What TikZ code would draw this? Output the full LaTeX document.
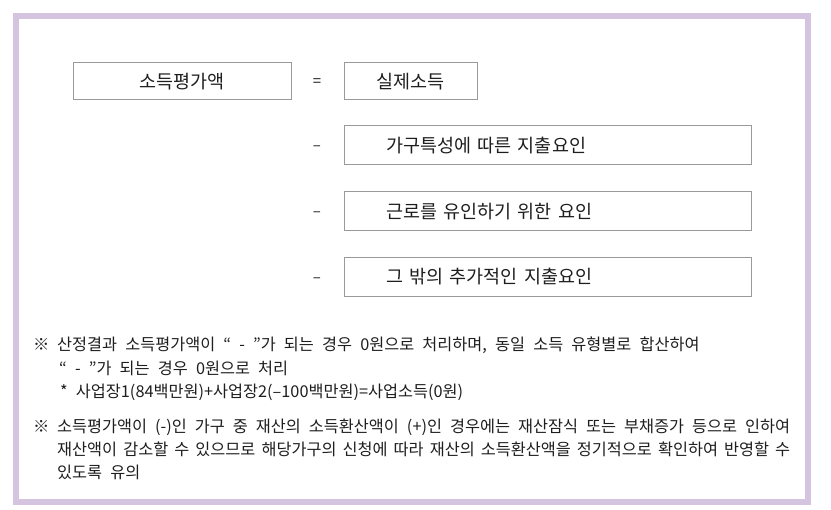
\documentclass[tikz,border=0pt]{standalone}
\usepackage{fontspec}
\setmainfont{Noto Sans CJK KR}
\definecolor{framelilac}{HTML}{D4C4E0}
\definecolor{boxgray}{HTML}{9A9A9A}
\definecolor{ink}{HTML}{1E1E1E}
\newcommand{\widespace}[1]{\spaceskip=#1em plus 0.15em minus 0.15em\relax}
\newcommand{\fullline}[1]{\hbox to 733pt{#1}}
\begin{document}
\begin{tikzpicture}[x=1pt,y=-1pt,
    termbox/.style={draw=boxgray,line width=1pt,minimum height=37pt,inner sep=0pt,text=ink,font=\fontsize{18.5}{18.5}\selectfont},
    factorbox/.style={draw=boxgray,line width=1pt,minimum height=39pt,inner ysep=0pt,inner xsep=42pt,text width=323pt,align=left,text=ink,font=\fontsize{18.5}{18.5}\selectfont\widespace{0.65}},
    oper/.style={anchor=base,inner sep=0pt,text=ink,font=\fontsize{15}{15}\selectfont},
    note/.style={anchor=base west,inner sep=0pt,text=ink,font=\fontsize{16.3}{16.3}\selectfont\widespace{0.5}}]
    \useasboundingbox (0,0) rectangle (831,510);
    \draw [framelilac,line width=6pt] (16,16) rectangle (808,502);
    % formula
    \node [termbox,minimum width=218pt] (evalinc) at (182,81.5) {소득평가액};
    \node [oper] (eq) at (317,87) {=};
    \node [termbox,minimum width=133pt] (realinc) at (410.5,81.5) {실제소득};
    \node [factorbox,anchor=west] (household) at (344,145.5) {가구특성에 따른 지출요인};
    \node [factorbox,anchor=west] (work) at (344,211.5) {근로를 유인하기 위한 요인};
    \node [factorbox,anchor=west] (extra) at (344,277) {그 밖의 추가적인 지출요인};
    \node [oper] (minusa) at (317,151) {–};
    \node [oper] (minusb) at (317,217) {–};
    \node [oper] (minusc) at (317,282.5) {–};
    % notes
    \node [note] (marka) at (33,351) {※};
    \node [note] (notea) at (57,351) {산정결과 소득평가액이 “ - ”가 되는 경우 0원으로 처리하며, 동일 소득 유형별로 합산하여};
    \node [note] (noteb) at (59,375) {“ - ”가 되는 경우 0원으로 처리};
    \node [note] (notec) at (60,398) {* 사업장1(84백만원)+사업장2(–100백만원)=사업소득(0원)};
    \node [note] (markb) at (33,433) {※};
    \node [note] (noted) at (57,433) {\fullline{소득평가액이 (-)인 가구 중 재산의 소득환산액이 (+)인 경우에는 재산잠식 또는 부채증가 등으로 인하여}};
    \node [note] (notee) at (57,456) {\fullline{재산액이 감소할 수 있으므로 해당가구의 신청에 따라 재산의 소득환산액을 정기적으로 확인하여 반영할 수}};
    \node [note] (notef) at (57,479) {있도록 유의};
\end{tikzpicture}
\end{document}
